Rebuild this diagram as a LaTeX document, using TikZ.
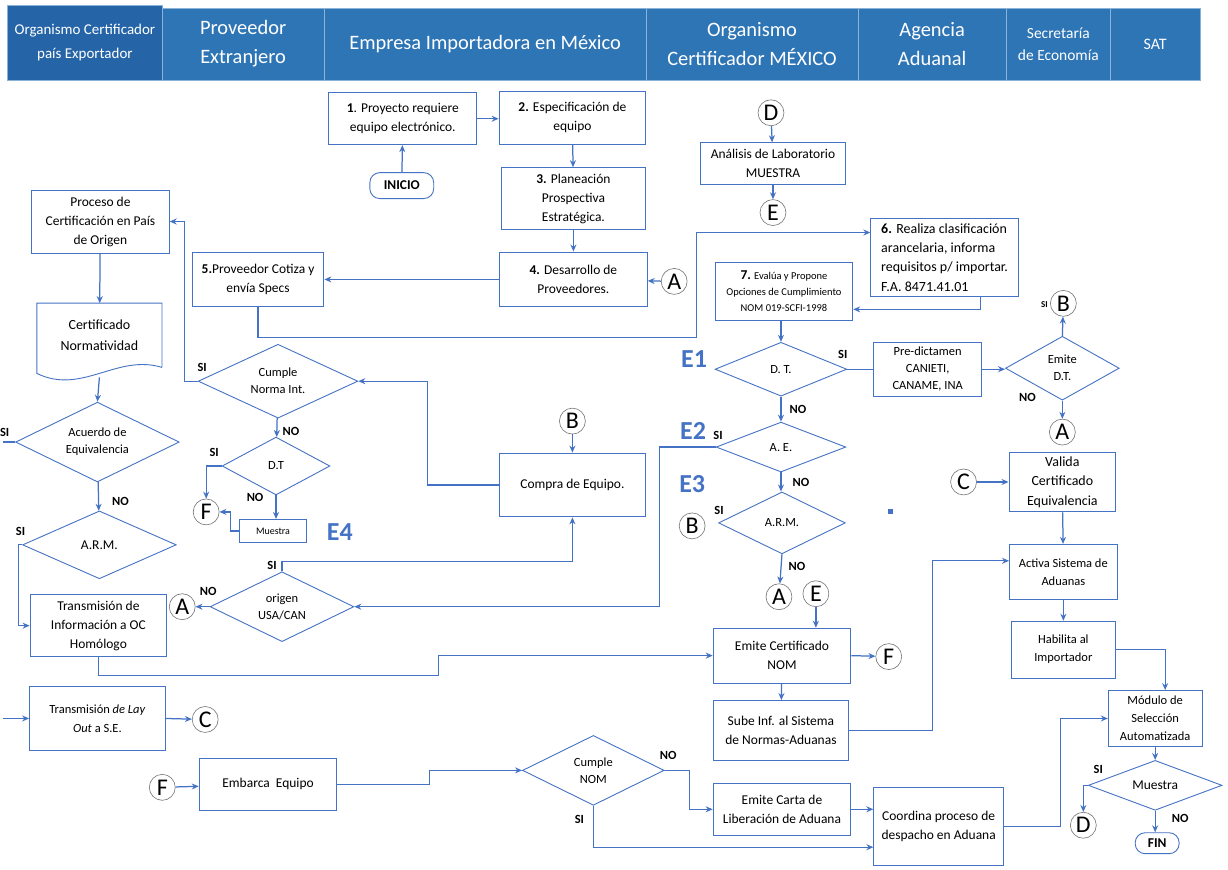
\documentclass[tikz,border=0pt]{standalone}
\usepackage{fontspec}
\setmainfont{Carlito}
\usetikzlibrary{positioning,arrows.meta,shapes.geometric}
\definecolor{lblue}{RGB}{68,114,196}
\definecolor{hblue}{RGB}{46,117,182}
\definecolor{hdark}{RGB}{38,100,168}

\begin{document}
\begin{tikzpicture}[x=1pt,y=-1pt]
	\tikzstyle{box} = [draw=lblue, line width=0.9pt, fill=white, align=center, inner sep=1pt, font=\fontsize{13.5}{19}\selectfont]
	\tikzstyle{dia} = [diamond, draw=lblue, line width=0.9pt, align=center, inner sep=0pt, aspect=2, font=\fontsize{12.5}{17}\selectfont]
	\tikzstyle{con} = [circle, draw=black!55, line width=0.6pt, fill=white, minimum size=26pt, inner sep=0pt, font=\fontsize{24}{24}\selectfont]
	\tikzstyle{term} = [draw=lblue, line width=0.9pt, rounded corners=10pt, inner sep=0pt, font=\fontsize{13.5}{15}\selectfont\bfseries]
	\tikzstyle{arr} = [draw=lblue, line width=1.25pt, -{Stealth[length=7pt,width=6pt]}]
	\tikzstyle{ln} = [draw=lblue, line width=1.25pt]
	\tikzstyle{yn} = [inner sep=0pt, font=\fontsize{12.5}{14}\selectfont\bfseries]
	\tikzstyle{etap} = [inner sep=0pt, text=lblue, font=\fontsize{26}{26}\selectfont\bfseries]
	\tikzstyle{hcell} = [fill=hblue, draw=white!45!hblue, line width=0.5pt, text=white, align=center, inner sep=0pt, minimum height=72pt]
	\fill[white] (0,0) rectangle (1228,871);

	\node[hcell, minimum width=162pt, font=\fontsize{20.5}{29}\selectfont] (hpe) at (241,44) {Proveedor\\Extranjero};
	\node[hcell, minimum width=323pt, font=\fontsize{20.5}{29}\selectfont] (hei) at (483.5,44) {Empresa Importadora en México};
	\node[hcell, minimum width=212pt, font=\fontsize{20.5}{29}\selectfont] (hom) at (751,44) {Organismo\\Certificador MÉXICO};
	\node[hcell, minimum width=149pt, font=\fontsize{20.5}{29}\selectfont] (haa) at (931.5,44) {Agencia\\Aduanal};
	\node[hcell, minimum width=104pt, font=\fontsize{15.5}{22}\selectfont] (hse) at (1058,44) {Secretaría\\de Economía};
	\node[hcell, minimum width=90pt, font=\fontsize{16}{20}\selectfont] (hsat) at (1155,44) {SAT};
	\node[hcell, fill=hdark, minimum width=155pt, minimum height=75pt, font=\fontsize{15}{24}\selectfont] (hoc) at (82.5,42.5) {Organismo Certificador\\país Exportador};

	\node[box, minimum width=148pt, minimum height=52pt] (n1) at (401,119) {\textbf{1}. Proyecto requiere\\equipo electrónico.};
	\node[box, minimum width=147pt, minimum height=53pt] (n2) at (571,118) {\textbf{2.} Especificación de\\equipo};
	\node[term, minimum width=64pt, minimum height=26pt] (ini) at (400,186) {INICIO};
	\node[box, minimum width=145pt, minimum height=62pt] (n3) at (572,199) {\textbf{3.} Planeación\\Prospectiva\\Estratégica.};
	\node[box, minimum width=148pt, minimum height=55pt] (n4) at (572,280) {\textbf{4.} Desarrollo de\\Proveedores.};
	\node[con] (ca1) at (673,282) {A};
	\node[box, minimum width=132pt, minimum height=55pt] (n5) at (256,280) {\textbf{5.}Proveedor Cotiza y\\envía Specs};
	\node[con] (cd1) at (770,113) {D};
	\node[box, minimum width=145pt, minimum height=42pt] (lab) at (772,164) {Análisis de Laboratorio\\MUESTRA};
	\node[con] (ce1) at (772,213) {E};
	\node[box, align=left, minimum width=148pt, minimum height=79pt, font=\fontsize{14}{19.5}\selectfont] (n6) at (944,258) {\textbf{6.} Realiza clasificación\\arancelaria, informa\\requisitos p/ importar.\\F.A. 8471.41.01};
	\node[box, minimum width=138pt, minimum height=58pt, font=\fontsize{10.5}{16}\selectfont] (n7) at (783,292) {{\fontsize{13.5}{16}\selectfont\textbf{7.}} Evalúa y Propone\\Opciones de Cumplimiento\\NOM 019-SCFI-1998};
	\node[dia, minimum width=132pt, minimum height=54pt] (dt) at (780,370) {D. T.};
	\node[box, minimum width=108pt, minimum height=54pt, font=\fontsize{12.5}{17}\selectfont] (pre) at (927,370) {Pre-dictamen\\CANIETI,\\CANAME, INA};
	\node[dia, minimum width=114pt, minimum height=64pt] (emi) at (1062,369) {Emite\\D.T.};
	\node[con] (cb1) at (1063,304) {B};
	\node[con] (ca2) at (1062,433) {A};
	\node[dia, minimum width=130pt, minimum height=50pt] (ae) at (780,448) {A. E.};
	\node[dia, minimum width=127pt, minimum height=62pt] (arm2) at (781,524) {A.R.M.};
	\node[con] (cb2) at (691,527) {B};
	\node[con] (ca3) at (778,598) {A};
	\node[con] (ce2) at (815,595) {E};
	\node[box, minimum width=138pt, minimum height=55pt] (nom) at (781,657) {Emite Certificado\\NOM};
	\node[con] (cf1) at (888,658) {F};
	\node[box, minimum width=136pt, minimum height=60pt] (sube) at (780,732) {Sube Inf. al Sistema\\de Normas-Aduanas};
	\node[box, minimum width=107pt, minimum height=60pt, font=\fontsize{14}{19.5}\selectfont] (val) at (1062,483) {Valida\\Certificado\\Equivalencia};
	\node[con] (cc1) at (963,483) {C};
	\node[box, minimum width=108pt, minimum height=55pt, font=\fontsize{12.5}{18}\selectfont] (act) at (1063,573) {Activa Sistema de\\Aduanas};
	\node[box, minimum width=104pt, minimum height=57pt, font=\fontsize{12.5}{18}\selectfont] (hab) at (1063,651) {Habilita al\\Importador};
	\node[box, minimum width=94pt, minimum height=56pt, font=\fontsize{12.5}{18}\selectfont] (mod) at (1155,720) {Módulo de\\Selección\\Automatizada};
	\node[dia, minimum width=134pt, minimum height=50pt, font=\fontsize{13.5}{17}\selectfont] (mue) at (1155,787) {Muestra};
	\node[con] (cd2) at (1083,827) {D};
	\node[term, minimum width=44pt, minimum height=21pt] (fin) at (1157,845) {FIN};
	\node[dia, minimum width=142pt, minimum height=70pt] (cum) at (592,772) {Cumple\\NOM};
	\node[box, minimum width=138pt, minimum height=52pt] (emb) at (266,786) {Embarca~~Equipo};
	\node[con] (cf3) at (160,789) {F};
	\node[box, minimum width=138pt, minimum height=52pt] (car) at (781,811) {Emite Carta de\\Liberación de Aduana};
	\node[box, minimum width=130pt, minimum height=78pt] (coo) at (938,828) {Coordina proceso de\\despacho en Aduana};

	\node[box, minimum width=138pt, minimum height=63pt] (pro) at (98,222) {Proceso de\\Certificación en País\\de Origen};
	\node[align=center, minimum width=125pt, minimum height=64pt, inner sep=0pt, font=\fontsize{14}{21}\selectfont] (cert) at (97,336) {Certificado\\Normatividad};
	\draw[ln, line width=0.9pt] (cert.south east) -- (cert.north east) -- (cert.north west) -- ([yshift=-6pt]cert.south west) .. controls +(45,22) and +(-45,-14) .. (cert.south east);
	\node[dia, minimum width=164pt, minimum height=80pt] (acu) at (95,443) {Acuerdo de\\Equivalencia};
	\node[dia, minimum width=154pt, minimum height=68pt, font=\fontsize{13.5}{17}\selectfont] (arm1) at (97,546) {A.R.M.};
	\node[box, minimum width=137pt, minimum height=62pt] (tra) at (96,627) {Transmisión de\\Información a OC\\Homólogo};
	\node[box, minimum width=136pt, minimum height=64pt, font=\fontsize{12.5}{19}\selectfont] (lay) at (95,720) {Transmisión \textit{de Lay}\\\textit{Out} a S.E.};
	\node[con] (cc2) at (203,721) {C};
	\node[dia, minimum width=160pt, minimum height=74pt] (cni) at (276,382) {Cumple\\Norma Int.};
	\node[dia, minimum width=108pt, minimum height=58pt] (dtf) at (274,467) {D.T};
	\node[con] (cf2) at (204,513) {F};
	\node[box, minimum width=67pt, minimum height=23pt, font=\fontsize{10}{12}\selectfont] (mst) at (271,532) {Muestra};
	\node[box, minimum width=146pt, minimum height=64pt] (com) at (571,486) {Compra de Equipo.};
	\node[con] (cb3) at (571,422) {B};
	\node[dia, minimum width=144pt, minimum height=70pt] (ori) at (280,608) {origen\\USA/CAN};
	\node[con] (ca4) at (180,608) {A};

	\node[etap] (e1) at (693,360) {E1};
	\node[etap] (e2) at (692,432) {E2};
	\node[etap] (e3) at (691,485) {E3};
	\node[etap] (e4) at (338,533) {E4};
	\fill[lblue] (887,510) rectangle (892,515);

	\node[yn] at (842,355) {SI};
	\node[yn] at (797,410) {NO};
	\node[yn] at (717,436) {SI};
	\node[yn] at (800,483) {NO};
	\node[yn] at (718,512) {SI};
	\node[yn] at (796,568) {NO};
	\node[yn, font=\fontsize{9}{10}\selectfont\bfseries] at (1044,305) {SI};
	\node[yn] at (1027,398) {NO};
	\node[yn] at (200,368) {SI};
	\node[yn] at (289,432) {NO};
	\node[yn] at (212,453) {SI};
	\node[yn] at (253,499) {NO};
	\node[yn] at (270,567) {SI};
	\node[yn] at (206,593) {NO};
	\node[yn] at (2,433) {SI};
	\node[yn] at (118,503) {NO};
	\node[yn] at (18,533) {SI};
	\node[yn] at (667,757) {NO};
	\node[yn] at (578,821) {SI};
	\node[yn] at (1098,771) {SI};
	\node[yn] at (1180,820) {NO};

	\coordinate (k1) at (695,338);
	\coordinate (k2) at (658,608);
	\coordinate (k3) at (932,650);
	\coordinate (k4) at (0,443);
	\coordinate (k5) at (16,627);
	\coordinate (k6) at (437,677);
	\coordinate (k7) at (0,720);
	\coordinate (k8) at (182,222);
	\coordinate (k9) at (426,382);
	\coordinate (k10) at (228,513);
	\coordinate (k11) at (400,563);
	\coordinate (k12) at (428,772);
	\coordinate (k13) at (688,811);
	\coordinate (k14) at (1060,720);

	\draw[arr] (ini) -- (n1);
	\draw[arr] (n1.east) -- (n1.east -| n2.west);
	\draw[arr] (n2) -- (n3);
	\draw[arr] (n3) -- (n4);
	\draw[arr] (ca1) -- (n4);
	\draw[arr] (n4) -- (n5);
	\draw[arr] (n5.south) |- (k1) |- ([yshift=25pt]n6.west);
	\draw[arr] (cd1) -- (lab);
	\draw[arr] (lab) -- (ce1);
	\draw[arr] ([xshift=36pt]n6.south) |- ([yshift=-18pt]n7.east);
	\draw[arr] (dt.north |- n7.south) -- (dt.north);
	\draw[ln] (dt.east) -- (pre.west);
	\draw[arr] (pre.east) -- (pre.east -| emi.west);
	\draw[arr] (emi.north) -- (cb1);
	\draw[arr] (emi.south) -- (ca2);
	\draw[arr] (dt.south) -- (ae.north);
	\draw[arr] (ae.south) -- (arm2.north -| ae.south);
	\draw[arr] (arm2.south) -- (ca3);
	\draw[arr] (ae.west) -| (k2) -- (ori.east);
	\draw[arr] (ce2) -- (ce2 |- nom.north);
	\draw[arr] (nom.east) -- (cf1);
	\draw[arr] (nom) -- (sube);
	\draw[arr] (sube.east) -| (k3) |- ([yshift=11pt]act.west);
	\draw[arr] (cc1) -- (val);
	\draw[arr] (val) -- (act);
	\draw[arr] (act) -- (hab);
	\draw[arr] (hab.east) -| ([xshift=10pt]mod.north);
	\draw[arr] (mod) -- (mue);
	\draw[arr] (mue.west) -| (cd2.north);
	\draw[arr] (mue.south) -- (mue.south |- fin.north);

	\draw[arr] (pro) -- (cert);
	\draw[arr] ([yshift=-10pt]cert.south) -- (acu.north);
	\draw[ln] (acu.west) -- (k4);
	\draw[arr] (acu) -- (arm1);
	\draw[arr] (arm1.west) -| (k5) -- (tra.west);
	\draw[arr] (tra.south) |- (k6) |- (nom.west);
	\draw[arr] (k7) -- (lay.west);
	\draw[arr] (lay.east) -- (cc2);
	\draw[arr] (cni.west) -| (k8) -- (pro.east);
	\draw[arr] (com.west) -| (k9) -- (cni.east);
	\draw[arr] (cb3) -- (com);
	\draw[arr] (cni) -- (dtf);
	\draw[arr] (dtf.west) -| (cf2.north);
	\draw[arr] (dtf.south) -- (dtf.south |- mst.north);
	\draw[arr] (mst.west) -| (k10) -- (cf2.east);
	\draw[arr] (ori.north) |- (k11) -| (com.south);
	\draw[arr] (ori.west) -- (ca4);
	\draw[arr] (cf3) -- (emb);
	\draw[arr] (emb.east) -| (k12) -- (cum.west);
	\draw[arr] (cum.east) -| (k13) -- (car.west);
	\draw[arr] (cum.south) |- ([yshift=-21pt]coo.west);
	\draw[arr] (car.east) -- (car.east -| coo.west);
	\draw[arr] (coo.east) -| (k14) -- (mod.west);
\end{tikzpicture}
\end{document}
